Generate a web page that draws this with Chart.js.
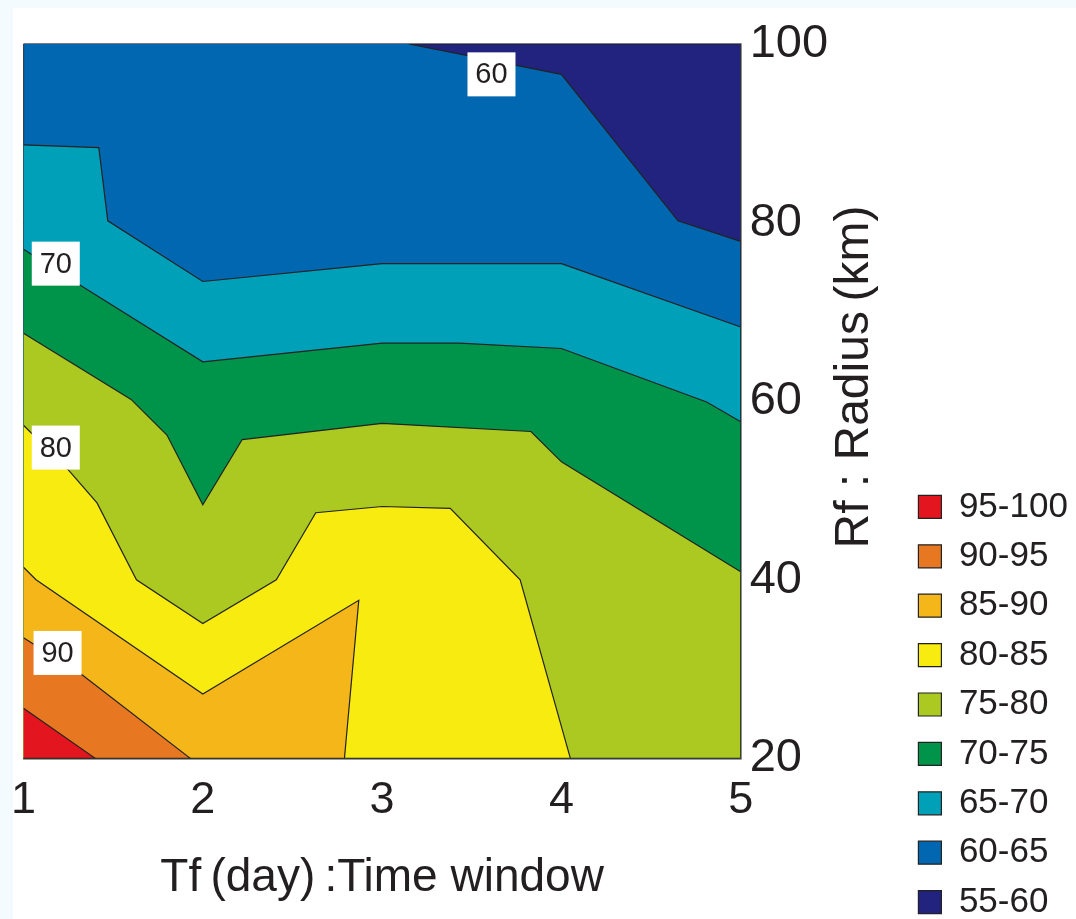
<!DOCTYPE html>
<html>
<head>
<meta charset="utf-8">
<script src="https://cdn.jsdelivr.net/npm/chart.js@4.4.1/dist/chart.umd.min.js"></script>
<style>
  html, body { margin: 0; padding: 0; background: #f3fbff; }
  #wrap { position: absolute; left: 13px; top: 8px; width: 1063px; height: 911px; background: #fff; }
</style>
</head>
<body>
<div id="wrap"><canvas id="chart" width="1063" height="911"></canvas></div>
<script>
// Tf (day) on x, Rf (km) on y
const tfTicks = [1, 2, 3, 4, 5];
const rfTicks = [20, 40, 60, 80, 100];

const bands = ['95-100', '90-95', '85-90', '80-85', '75-80', '70-75', '65-70', '60-65', '55-60'];

// contour lines as [Tf, Rf]
const c95 = [[1, 25.6], [1.40, 20]];
const c90 = [[1, 33.5], [1.33, 29.3], [1.93, 20]];
const c85 = [[1, 41.4], [1.07, 40], [2, 27.2], [2.87, 37.7], [2.79, 20]];
const c80 = [[1, 57.3], [1.25, 52.3], [1.41, 48.6], [1.63, 40], [2, 35.1], [2.41, 40], [2.63, 47.5], [3, 48.2], [3.38, 48.0], [3.77, 40], [4.05, 20]];
const c75 = [[1, 67.6], [1.6, 60.2], [1.80, 56.2], [2, 48.4], [2.22, 55.7], [3, 57.5], [3.83, 56.6], [4, 53.2], [5, 40.9]];
const c70 = [[1, 77.0], [1.33, 72.8], [2, 64.4], [3, 66.5], [3.43, 66.5], [4, 65.9], [4.81, 59.9], [5, 57.7]];
const c65 = [[1, 88.7], [1.42, 88.4], [1.47, 80.2], [2, 73.4], [3, 75.4], [4, 75.4], [5, 68.3]];
const c60 = [[3.15, 100], [4, 96.6], [4.65, 80.2], [5, 77.9]];

// one contour per band, the lowest band is the whole plot
const contours = [c95, c90, c85, c80, c75, c70, c65, c60, null];

const contourLabels = [
    {text: '60', x: 3.61, y: 96.6},
    {text: '70', x: 1.18, y: 75.4},
    {text: '80', x: 1.18, y: 54.8},
    {text: '90', x: 1.19, y: 31.8}
];

const colors = ['#e3161f', '#e87722', '#f4b619', '#f8eb10', '#abc921', '#00934a', '#00a0b9', '#0067b0', '#22237f'];

const FONT = '"Liberation Sans", Arial, sans-serif';
const INK = '#231f20';
const PLOT_RIGHT = 727.7;
const PLOT_BOTTOM = 750.3;
const PAD = {left: 10.5, top: 36, right: 0, bottom: -15};

const xMin = tfTicks[0], xMax = tfTicks[tfTicks.length - 1];
const yMin = rfTicks[0], yMax = rfTicks[rfTicks.length - 1];

// area on the high side of a contour, closed along the plot edges
function region(line) {
    let pts;
    if (!line) {
        pts = [[xMin, yMax], [xMax, yMax], [xMax, yMin], [xMin, yMin]];
    } else {
        pts = line.slice();
        if (pts[pts.length - 1][0] === xMax) pts.push([xMax, yMin]);
        pts.push([xMin, yMin]);
        if (pts[0][1] === yMax) pts.push([xMin, yMax]);
    }
    return pts.map(p => ({x: p[0], y: p[1]}));
}

const extras = {
    id: 'extras',
    afterDraw(chart) {
        const ctx = chart.ctx;
        const xs = chart.scales.x, ys = chart.scales.y;
        ctx.save();
        ctx.font = '29px ' + FONT;
        ctx.textAlign = 'center';
        ctx.textBaseline = 'middle';
        contourLabels.forEach(l => {
            const px = xs.getPixelForValue(l.x), py = ys.getPixelForValue(l.y);
            ctx.fillStyle = '#fff';
            ctx.fillRect(px - 24, py - 22, 48, 44);
            ctx.fillStyle = INK;
            ctx.fillText(l.text, px, py + 1);
        });
        // y title reads bottom to top
        ctx.translate(842, 369);
        ctx.rotate(-Math.PI / 2);
        ctx.font = '48px ' + FONT;
        ctx.fillText('Rf : Radius\u2009(km)', 0, 0);
        ctx.restore();
    }
};

function gridColor(edgeValues) {
    return c => (c.tick && edgeValues.includes(c.tick.value)) ? '#7a7a7a' : '#1e1e1e';
}

new Chart(document.getElementById('chart'), {
    type: 'line',
    data: {
        datasets: bands.map((b, i) => ({
            label: b,
            data: region(contours[i]),
            backgroundColor: colors[i],
            borderColor: '#222',
            borderWidth: 1.2,
            fill: 'shape',
            pointRadius: 0,
            pointHoverRadius: 0,
            tension: 0,
            clip: 0
        }))
    },
    options: {
        responsive: false,
        animation: false,
        events: [],
        layout: {padding: PAD, autoPadding: false},
        plugins: {
            tooltip: {enabled: false},
            legend: {
                position: 'right',
                align: 'end',
                maxWidth: 172,
                labels: {
                    boxWidth: 23,
                    boxHeight: 23,
                    padding: 14.4,
                    color: INK,
                    font: {family: FONT, size: 35, lineHeight: 1}
                }
            }
        },
        scales: {
            x: {
                type: 'linear',
                min: xMin,
                max: xMax,
                z: 1,
                afterBuildTicks: s => { s.ticks = tfTicks.map(v => ({value: v})); },
                afterFit: s => {
                    s.height = s.chart.height - PAD.bottom - PLOT_BOTTOM;
                    s.paddingLeft = 0;
                    s.paddingRight = 0;
                },
                grid: {color: gridColor([xMin, xMax]), lineWidth: 1.6, drawTicks: false},
                border: {color: '#7a7a7a', width: 1.6},
                ticks: {color: INK, padding: 15, font: {family: FONT, size: 45, lineHeight: 1.2}},
                title: {
                    display: true,
                    text: 'Tf\u2009(day)\u2009:Time window',
                    color: INK,
                    padding: {top: 0, bottom: 28},
                    font: {family: FONT, size: 46, lineHeight: 1.2}
                }
            },
            y: {
                type: 'linear',
                position: 'right',
                min: yMin,
                max: yMax,
                z: 1,
                afterBuildTicks: s => { s.ticks = rfTicks.map(v => ({value: v})); },
                afterFit: s => {
                    const lw = s.chart.legend ? s.chart.legend.width : 172;
                    s.width = s.chart.width - PAD.right - lw - PLOT_RIGHT;
                    s.paddingTop = 0;
                    s.paddingBottom = 0;
                },
                grid: {color: gridColor([yMin, yMax]), lineWidth: 1.6, drawTicks: false},
                border: {color: '#7a7a7a', width: 1.6},
                ticks: {color: INK, padding: 9, font: {family: FONT, size: 47, lineHeight: 1.2}}
            }
        }
    },
    plugins: [extras]
});
</script>
</body>
</html>
